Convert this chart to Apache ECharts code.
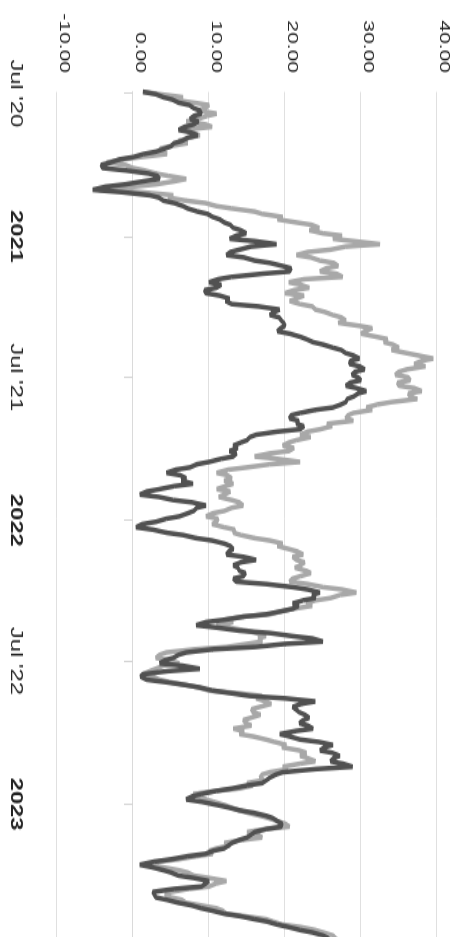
<!DOCTYPE html>
<html>
<head>
<meta charset="utf-8">
<script src="https://cdn.jsdelivr.net/npm/echarts@6/dist/echarts.min.js"></script>
<style>
html,body{margin:0;padding:0;background:#fff;overflow:hidden;width:456px;height:937px;}
#wrap{position:absolute;left:0;top:0;width:700px;height:456px;transform-origin:0 0;transform:translateX(456px) rotate(90deg) scaleX(1.4);}
#chart{width:700px;height:456px;}
</style>
</head>
<body>
<div id="wrap"><div id="chart"></div></div>
<script>
// Monday readings
const dates = [
'2020-06-29','2020-07-06','2020-07-13','2020-07-20','2020-07-27','2020-08-03','2020-08-10','2020-08-17','2020-08-24','2020-08-31',
'2020-09-07','2020-09-14','2020-09-21','2020-09-28','2020-10-05','2020-10-12','2020-10-19','2020-10-26','2020-11-02','2020-11-09',
'2020-11-16','2020-11-23','2020-11-30','2020-12-07','2020-12-14','2020-12-21','2020-12-28',
'2021-01-04','2021-01-11','2021-01-18','2021-01-25','2021-02-01','2021-02-08','2021-02-15','2021-02-22','2021-03-01','2021-03-08',
'2021-03-15','2021-03-22','2021-03-29','2021-04-05','2021-04-12','2021-04-19','2021-04-26','2021-05-03','2021-05-10','2021-05-17',
'2021-05-24','2021-05-31','2021-06-07','2021-06-14','2021-06-21','2021-06-28','2021-07-05','2021-07-12','2021-07-19','2021-07-26',
'2021-08-02','2021-08-09','2021-08-16','2021-08-23','2021-08-30','2021-09-06','2021-09-13','2021-09-20','2021-09-27','2021-10-04',
'2021-10-11','2021-10-18','2021-10-25','2021-11-01','2021-11-08','2021-11-15','2021-11-22','2021-11-29','2021-12-06','2021-12-13',
'2021-12-20','2021-12-27',
'2022-01-03','2022-01-10','2022-01-17','2022-01-24','2022-01-31','2022-02-07','2022-02-14','2022-02-21','2022-02-28','2022-03-07',
'2022-03-14','2022-03-21','2022-03-28','2022-04-04','2022-04-11','2022-04-18','2022-04-25','2022-05-02','2022-05-09','2022-05-16',
'2022-05-23','2022-05-30','2022-06-06','2022-06-13','2022-06-20','2022-06-27','2022-07-04','2022-07-11','2022-07-18','2022-07-25',
'2022-08-01','2022-08-08','2022-08-15','2022-08-22','2022-08-29','2022-09-05','2022-09-12','2022-09-19','2022-09-26','2022-10-03',
'2022-10-10','2022-10-17','2022-10-24','2022-10-31','2022-11-07','2022-11-14','2022-11-21','2022-11-28','2022-12-05','2022-12-12',
'2022-12-19','2022-12-26',
'2023-01-02','2023-01-09','2023-01-16','2023-01-23','2023-01-30','2023-02-06','2023-02-13','2023-02-20','2023-02-27','2023-03-06',
'2023-03-13','2023-03-20','2023-03-27','2023-04-03','2023-04-10','2023-04-17','2023-04-24','2023-05-01','2023-05-08','2023-05-15',
'2023-05-22','2023-05-29','2023-06-05','2023-06-12','2023-06-19','2023-06-26','2023-07-03'
];

// Thursday readings
const midDates = [
'2020-07-02','2020-07-09','2020-07-16','2020-07-23','2020-07-30','2020-08-06','2020-08-13','2020-08-20','2020-08-27','2020-09-03',
'2020-09-10','2020-09-17','2020-09-24','2020-10-01','2020-10-08','2020-10-15','2020-10-22','2020-10-29','2020-11-05','2020-11-12',
'2020-11-19','2020-11-26','2020-12-03','2020-12-10','2020-12-17','2020-12-24','2020-12-31',
'2021-01-07','2021-01-14','2021-01-21','2021-01-28','2021-02-04','2021-02-11','2021-02-18','2021-02-25','2021-03-04','2021-03-11',
'2021-03-18','2021-03-25','2021-04-01','2021-04-08','2021-04-15','2021-04-22','2021-04-29','2021-05-06','2021-05-13','2021-05-20',
'2021-05-27','2021-06-03','2021-06-10','2021-06-17','2021-06-24','2021-07-01','2021-07-08','2021-07-15','2021-07-22','2021-07-29',
'2021-08-05','2021-08-12','2021-08-19','2021-08-26','2021-09-02','2021-09-09','2021-09-16','2021-09-23','2021-09-30','2021-10-07',
'2021-10-14','2021-10-21','2021-10-28','2021-11-04','2021-11-11','2021-11-18','2021-11-25','2021-12-02','2021-12-09','2021-12-16',
'2021-12-23','2021-12-30',
'2022-01-06','2022-01-13','2022-01-20','2022-01-27','2022-02-03','2022-02-10','2022-02-17','2022-02-24','2022-03-03','2022-03-10',
'2022-03-17','2022-03-24','2022-03-31','2022-04-07','2022-04-14','2022-04-21','2022-04-28','2022-05-05','2022-05-12','2022-05-19',
'2022-05-26','2022-06-02','2022-06-09','2022-06-16','2022-06-23','2022-06-30','2022-07-07','2022-07-14','2022-07-21','2022-07-28',
'2022-08-04','2022-08-11','2022-08-18','2022-08-25','2022-09-01','2022-09-08','2022-09-15','2022-09-22','2022-09-29','2022-10-06',
'2022-10-13','2022-10-20','2022-10-27','2022-11-03','2022-11-10','2022-11-17','2022-11-24','2022-12-01','2022-12-08','2022-12-15',
'2022-12-22','2022-12-29',
'2023-01-05','2023-01-12','2023-01-19','2023-01-26','2023-02-02','2023-02-09','2023-02-16','2023-02-23','2023-03-02','2023-03-09',
'2023-03-16','2023-03-23','2023-03-30','2023-04-06','2023-04-13','2023-04-20','2023-04-27','2023-05-04','2023-05-11','2023-05-18',
'2023-05-25','2023-06-01','2023-06-08','2023-06-15','2023-06-22','2023-06-29'
];

const lightSeries = [
1.3,6.6,8,9.5,11,8.5,9.6,6.6,8.8,6,
4.8,3.5,1,-3.5,0,3,7,3,-4.5,5.3,
7,11,16,19.7,21.5,24.5,25,26.3,32.5,26,
21.5,24.6,27,24.6,27.6,20.5,23.2,20,21.5,22,
24,26.3,28,29.8,30.5,32,33,35,36,39.5,
37,36,34.5,36.5,35,38,36.5,34,30.7,29,
28,25.5,24.6,22,21.5,19.7,20.5,16,22,15,
11,13,13.2,11,12,13,14.5,12,9.6,11,
12,13.2,16,19.7,20.5,22.4,21.5,22,22.8,22,
20.6,25,29.4,26,22.8,21,18,12,11,15,
17.5,17,12.3,4.4,3,6.1,3,1.3,3.5,7,
10,17,17.5,16.7,15.8,15.5,14.9,13.2,14,17.5,
20.2,21.9,22,24,19.7,18,16.7,15,14,7.9,
9.6,12,14,16.7,19,20.6,15,17,12,11,
10.5,6,1.5,6,8,12.3,10,5,5,7,
11,12.3,17.5,19.7,24,26.3,27,28
];
const lightMid = [
3.5,5.2,10,8.5,9.8,7,10.4,7.6,7.4,7.2,
3.6,4.5,-1.5,-1,1.5,4.6,5.5,0,1,4.6,
9.5,13,17,19,23.5,23.2,27.5,29,28,23,
23.4,26.4,25.4,26.8,22.5,22,21.2,22.5,20.6,23.6,
25.2,27.4,27,31.5,30,33.5,34.2,34,37.5,38,
38.5,35,36.2,34.8,37,36.2,37.4,32.2,31.5,28.3,
29,26.2,23,23.4,20.5,21.2,18,19,18,12.5,
12.4,12,12.2,12.8,11.3,14,13,10.5,11.2,10.4,
13.4,14.2,18,19,21.6,21,22.6,21.3,23.4,21,
23,27.5,27.3,24,23.6,19.6,14.5,13.2,12.6,16.2,
16.5,15,8,3.5,4.8,4,2.2,2.6,4.8,8.6,
13.5,16.2,18.2,15.6,16.8,14.5,15.6,14.6,15.8,18.6,
19.6,22.8,23,22,20.4,17,17.2,15.8,11,8.6,
10.6,12.8,15,17.8,20,17.5,16.4,14.5,12.8,10,
8.4,3.5,3.8,7.2,10,11,7.4,4.2,6.4,8.8,
11.8,14.6,18.4,22,25,26.2,27.8
];

const darkSeries = [
1.3,4,6,8,9,7.5,8,6,8.5,6.5,
5,3,0,-3,-4,2,3.5,-1,-5.3,2.2,
4,6.6,8.5,10.5,12,13.2,14.9,12.7,18.9,14,
12.3,16,19.7,20.6,13,10,11,9.6,12.7,13,
19.3,18,19.5,20,19,22,23.7,26.3,28,29.8,
28.5,30.5,28.8,30,28,30.7,29,28,26.3,22,
20.6,21.5,22,16.2,15,13.2,12.7,13.2,10,7.5,
4.4,7,7.9,3.5,0.9,5.3,9.6,8,6.1,3,
0.4,4.4,8.3,12,13.2,12.3,16.2,13.2,14,14.5,
13.6,21,24.6,24,21,21,17.5,12,8.3,14,
21,25,16,7,5.3,3.5,8.8,1.3,1.8,7,
10.5,15.4,24,21,21.9,23.2,21.9,23.7,19.3,22,
26.3,24.6,27.2,26,28.9,19.7,18,17,13,9,
7,11,14,17.5,19,19.5,16,15,13,12,
9.5,5,0.9,4,6,10,9,2.6,3,6,
9,12,16,19,22,25,26,27
];
const darkMid = [
3,5.2,7.4,8.8,8,8.6,6.8,7.6,7.2,5.4,
4.2,1.4,-1.8,-4.2,-1,3.2,1.4,-3.6,-1.5,3.4,
5.4,7.2,9.8,11.4,12.8,14.2,13.6,16,15.5,12.8,
14.6,18,20.8,17,11.2,11.6,9.4,11.4,12.2,16.5,
18.6,19.2,19.8,19.4,20.6,22.8,25,27.4,29,28.6,
29.8,29.2,29.6,28.6,29.4,29.6,28.2,27.4,24,20.8,
21.8,22.5,19,15.4,14.2,13.8,13.6,11.6,8.4,5.6,
6.2,6.4,5.5,1.8,3.4,7.8,8.4,7.2,4.4,1.2,
2.6,6.6,10.4,12.8,12.6,14.5,14.2,13.8,14.8,13.2,
17.5,23,23.6,22.4,21.8,19.5,14.5,9.6,11,18,
23.6,20,10.5,6,4.2,6.5,4.6,1,4.2,8.8,
12.6,20,22.2,21.4,22.6,22.4,23,21.4,20.6,24.4,
25.2,26.2,26.4,27.6,24,18.8,17.6,15,11,7.8,
9,12.4,15.8,18.4,19.6,17.6,15.6,14,12.6,10.6,
7.2,2.8,2.4,5,8,9.6,5.5,2.8,4.4,7.6,
10.4,14,17.6,20.4,23.6,25.6,26.6
];

const tickDates = ['2020-07-01','2021-01-01','2021-07-01','2022-01-01','2022-07-01','2023-01-01'];
const tickLabels = ["Jul '20",'2021',"Jul '21",'2022',"Jul '22",'2023'];
const tickBold = [false,true,false,true,false,true];

const valueMin = -10, valueMax = 40, valueStep = 10;

function ts(s){const p=s.split('-').map(Number);return new Date(p[0],p[1]-1,p[2]).getTime();}
const tickTs = tickDates.map(ts);

function buildData(mon, thu){
  const out = [];
  for(let i=0;i<dates.length;i++){
    out.push([ts(dates[i]), mon[i]]);
    if(i<midDates.length) out.push([ts(midDates[i]), thu[i]]);
  }
  return out;
}

const chart = echarts.init(document.getElementById('chart'), null, {renderer:'canvas'});
const FONT = '"Liberation Sans", Arial, Helvetica, sans-serif';
chart.setOption({
  animation:false,
  backgroundColor:'#fff',
  grid:{left:65.6,right:24,top:19,bottom:57,containLabel:false},
  xAxis:{
    type:'value',
    min:ts(dates[0]), max:ts(dates[dates.length-1]),
    axisLine:{show:true,lineStyle:{color:'#dadada',width:1}},
    axisTick:{show:true,customValues:tickTs,length:9,lineStyle:{color:'#d4d4d4'}},
    splitLine:{show:false},
    axisLabel:{
      customValues:tickTs,
      margin:33,
      fontFamily:FONT, fontSize:17, color:'#222',
      formatter:function(v){
        const i = tickTs.indexOf(v);
        if(i<0) return '';
        return tickBold[i] ? '{b|'+tickLabels[i]+'}' : '{n|'+tickLabels[i]+'}';
      },
      rich:{
        b:{fontFamily:FONT,fontSize:17,fontWeight:'bold',color:'#222'},
        n:{fontFamily:FONT,fontSize:17,color:'#222'}
      }
    }
  },
  yAxis:{
    type:'value', min:valueMin, max:valueMax, interval:valueStep,
    axisLine:{show:false}, axisTick:{show:false},
    splitLine:{lineStyle:{color:'#e0e0e0',width:1}},
    axisLabel:{margin:13.5,fontFamily:FONT,fontSize:15,color:'#222',verticalAlign:'bottom',
      formatter:function(v){return v.toFixed(2);}}
  },
  series:[
    {name:'light',type:'line',showSymbol:false,symbol:'none',clip:true,
     lineStyle:{color:'#a8a8a8',width:3.5},
     data:buildData(lightSeries, lightMid)},
    {name:'dark',type:'line',showSymbol:false,symbol:'none',clip:true,
     lineStyle:{color:'#515151',width:3.5},
     data:buildData(darkSeries, darkMid)}
  ]
});
</script>
</body>
</html>
